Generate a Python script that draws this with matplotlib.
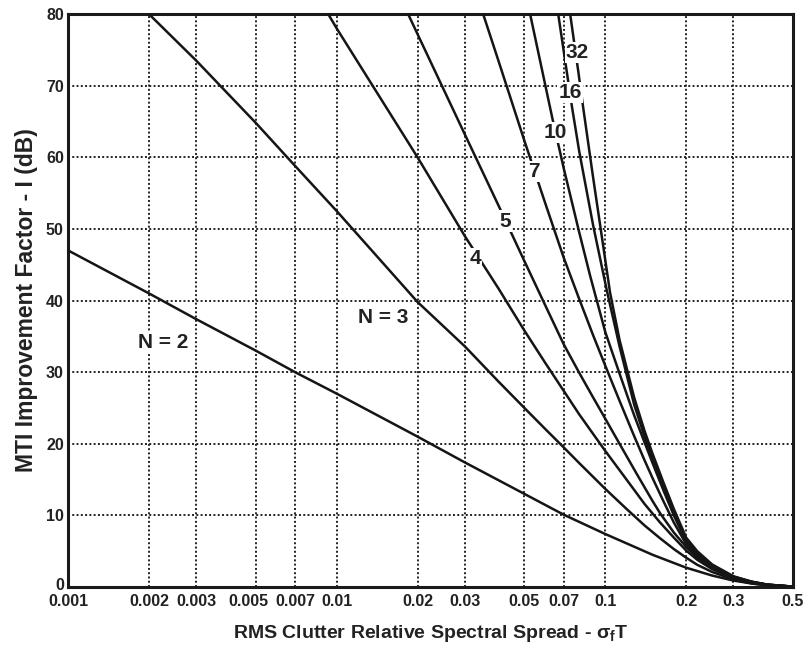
import matplotlib
matplotlib.use("Agg")
import matplotlib.pyplot as plt
from matplotlib.ticker import FixedLocator, FixedFormatter, NullLocator
from matplotlib.transforms import ScaledTranslation

plt.rcParams['font.family'] = ['Liberation Sans', 'DejaVu Sans']
plt.rcParams['font.weight'] = 'bold'
plt.rcParams['mathtext.fontset'] = 'custom'
plt.rcParams['mathtext.rm'] = 'Liberation Sans:bold'
plt.rcParams['mathtext.it'] = 'Liberation Sans:bold'
plt.rcParams['mathtext.bf'] = 'Liberation Sans:bold'

# values: sigma_f*T and improvement factor (dB) per pulse count
sig_n2 = [0.001, 0.002, 0.003, 0.005, 0.007, 0.01, 0.02, 0.03, 0.05, 0.07, 0.1,
          0.15, 0.2, 0.25, 0.3, 0.35, 0.4, 0.5]
imp_n2 = [47.0, 41.0, 37.4, 33.0, 30.0, 27.0, 21.0, 17.4, 13.0, 10.1, 7.4,
          4.5, 2.7, 1.6, 0.9, 0.5, 0.25, 0.05]

sig_n3 = [0.002, 0.003, 0.005, 0.007, 0.01, 0.02, 0.03, 0.04, 0.05, 0.06, 0.07, 0.08,
          0.09, 0.1, 0.12, 0.14, 0.16, 0.18, 0.2, 0.22, 0.25, 0.3, 0.35, 0.4, 0.5]
imp_n3 = [80.0, 73.5, 64.8, 58.8, 52.5, 39.8, 33.6, 28.7, 25.0, 22.0, 19.5, 17.3,
          15.4, 13.7, 10.9, 8.6, 6.8, 5.3, 4.1, 3.1, 2.1, 1.05, 0.5, 0.24, 0.05]

sig_n4 = [0.0093, 0.01, 0.02, 0.03, 0.04, 0.05, 0.06, 0.07, 0.08, 0.09, 0.1, 0.12,
          0.14, 0.16, 0.18, 0.2, 0.22, 0.25, 0.3, 0.35, 0.4, 0.5]
imp_n4 = [80.0, 78.0, 60.0, 49.0, 41.7, 35.8, 31.2, 27.4, 24.1, 21.4, 19.0, 15.0,
          11.6, 9.0, 6.9, 5.1, 3.8, 2.5, 1.2, 0.6, 0.28, 0.05]

sig_n5 = [0.01845, 0.02, 0.03, 0.04, 0.05, 0.06, 0.07, 0.08, 0.09, 0.1, 0.113, 0.13,
          0.15, 0.16, 0.18, 0.2, 0.22, 0.25, 0.3, 0.35, 0.4, 0.5]
imp_n5 = [80.0, 77.2, 63.2, 53.3, 45.5, 39.2, 33.9, 29.9, 26.5, 23.5, 20.0, 16.0,
          12.0, 10.3, 7.6, 5.6, 4.1, 2.7, 1.3, 0.65, 0.3, 0.05]

sig_n7 = [0.0351, 0.04, 0.05, 0.06, 0.07, 0.08, 0.09, 0.1, 0.113, 0.128, 0.14, 0.15,
          0.165, 0.18, 0.2, 0.22, 0.25, 0.3, 0.35, 0.4, 0.5]
imp_n7 = [80.0, 73.5, 62.3, 53.4, 46.0, 40.2, 35.2, 30.9, 26.0, 21.1, 17.7, 15.2,
          11.9, 9.0, 6.0, 4.4, 2.85, 1.35, 0.7, 0.32, 0.05]

sig_n10 = [0.0525, 0.0634, 0.07, 0.08, 0.0879, 0.1, 0.113, 0.128, 0.14, 0.15, 0.165,
           0.18, 0.2, 0.22, 0.25, 0.3, 0.35, 0.4, 0.5]
imp_n10 = [80.0, 65.6, 58.5, 49.5, 43.4, 35.6, 29.8, 24.0, 20.2, 17.3, 13.4,
           10.0, 6.3, 4.6, 2.95, 1.4, 0.72, 0.33, 0.05]

sig_n16 = [0.0668, 0.0752, 0.08, 0.09, 0.1016, 0.113, 0.128, 0.14, 0.15, 0.165, 0.18,
           0.2, 0.22, 0.25, 0.3, 0.35, 0.4, 0.5]
imp_n16 = [80.0, 67.0, 60.8, 50.6, 41.2, 33.6, 25.5, 21.0, 17.9, 13.9, 10.4,
           6.6, 4.8, 3.05, 1.45, 0.74, 0.34, 0.05]

sig_n32 = [0.074, 0.0794, 0.0827, 0.09, 0.1042, 0.113, 0.128, 0.14, 0.15, 0.165, 0.18,
           0.2, 0.22, 0.25, 0.3, 0.35, 0.4, 0.5]
imp_n32 = [80.0, 71.9, 67.0, 57.3, 41.1, 34.5, 26.5, 21.8, 18.6, 14.5, 10.9,
           6.9, 5.0, 3.15, 1.5, 0.76, 0.35, 0.05]

x_ticks = [0.001, 0.002, 0.003, 0.005, 0.007, 0.01, 0.02, 0.03, 0.05, 0.07, 0.1, 0.2, 0.3, 0.5]
x_tick_labels = ['0.001', '0.002', '0.003', '0.005', '0.007', '0.01', '0.02', '0.03',
                 '0.05', '0.07', '0.1', '0.2', '0.3', '0.5']
y_ticks = [0, 10, 20, 30, 40, 50, 60, 70, 80]

# curve labels and where they sit
label_text = ['N = 2', 'N = 3', '4', '5', '7', '10', '16', '32']
label_x = [0.00226, 0.0149, 0.0328, 0.0424, 0.0543, 0.0650, 0.0740, 0.0786]
label_y = [34.1, 37.6, 45.9, 51.1, 58.0, 63.4, 69.0, 74.6]

fig = plt.figure(figsize=(8.07, 6.49), dpi=100)
ax = fig.add_axes([0.0843, 0.0955, 0.8984, 0.8829])

curves = [(sig_n2, imp_n2), (sig_n3, imp_n3), (sig_n4, imp_n4), (sig_n5, imp_n5),
          (sig_n7, imp_n7), (sig_n10, imp_n10), (sig_n16, imp_n16), (sig_n32, imp_n32)]
for s, i in curves:
    ax.plot(s, i, color='#151515', lw=1.8, zorder=3)

ax.set_xscale('log')
ax.set_xlim(0.001, 0.5)
ax.set_ylim(0, 80)
ax.xaxis.set_major_locator(FixedLocator(x_ticks))
ax.xaxis.set_major_formatter(FixedFormatter(x_tick_labels))
ax.xaxis.set_minor_locator(NullLocator())
ax.set_yticks(y_ticks)
ax.tick_params(length=0, labelsize=11.5)
ax.tick_params(axis='x', pad=5)
ax.tick_params(axis='y', pad=3)
for lab in ax.get_xticklabels() + ax.get_yticklabels():
    lab.set_fontweight('bold')
    lab.set_color('#222222')

# the 0.005 label sits a little left of its grid line in the original,
# and the y "0" sits a touch above the x labels
tick_005 = ax.xaxis.get_major_ticks()[3]
tick_005.label1.set_transform(tick_005.label1.get_transform()
                              + ScaledTranslation(-7 / 100, 0, fig.dpi_scale_trans))
tick_y0 = ax.yaxis.get_major_ticks()[0]
tick_y0.label1.set_transform(tick_y0.label1.get_transform()
                             + ScaledTranslation(0, 3 / 100, fig.dpi_scale_trans))

ax.grid(True, color='#222222', linestyle=(0, (1, 1.2)), linewidth=1.4)
for sp in ax.spines.values():
    sp.set_linewidth(2.2)
    sp.set_color('#1a1a1a')

for t, lx, ly in zip(label_text, label_x, label_y):
    ax.text(lx, ly, t, fontsize=15, fontweight='bold', color='#222222',
            ha='center', va='center', zorder=4,
            bbox=dict(facecolor='white', edgecolor='none', pad=0.8))

ax.set_xlabel(r'RMS Clutter Relative Spectral Spread - σ$_\mathrm{f}$T',
              fontsize=14, fontweight='bold', color='#222222', labelpad=10)
ax.set_ylabel('MTI Improvement Factor - I (dB)', fontsize=16.5, fontweight='bold',
              color='#222222', labelpad=6)

fig.savefig('out.png', dpi=100)
